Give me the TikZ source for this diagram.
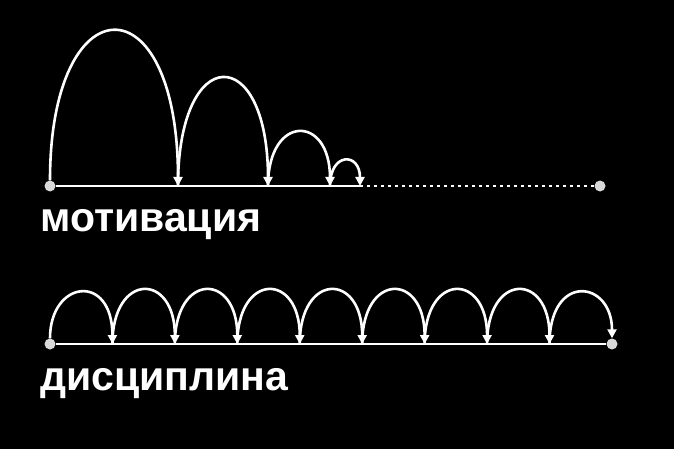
\documentclass[tikz,border=0pt]{standalone}
\usepackage{fontspec}
\setmainfont{Liberation Sans}
\usetikzlibrary{arrows.meta}
\begin{document}
\begin{tikzpicture}[x=1pt,y=-1pt,
  dotn/.style={circle,fill=white!85!black,inner sep=0pt,minimum size=11pt},
  arc/.style={white,line width=2.6pt,-{Triangle[length=9pt,width=9pt]}},
  base/.style={white,line width=2.6pt},
  lbl/.style={white,font=\bfseries\fontsize{41}{46}\selectfont,anchor=base west,inner sep=0pt}]
\fill[black] (0,0) rectangle (674,449);
\useasboundingbox (0,0) rectangle (674,449);
% top
\node[dotn] (t0) at (50,186) {};
\node[dotn] (tend) at (600,186) {};
\coordinate (t1) at (178,186);
\coordinate (t2) at (268,186);
\coordinate (t3) at (330,186);
\coordinate (t4) at (360,186);
\draw[base] (t0) -- (t4);
\draw[white,line width=2.6pt,dash pattern=on 3pt off 4pt] (t4) -- (tend);
\draw[arc] (t0.north) .. controls ([yshift=204pt]t0.center) and ([yshift=208pt]t1) .. (t1);
\draw[arc] (t1) .. controls ([yshift=144pt]t1) and ([yshift=144pt]t2) .. (t2);
\draw[arc] (t2) .. controls ([yshift=72pt]t2) and ([yshift=72pt]t3) .. (t3);
\draw[arc] (t3) .. controls ([yshift=34pt]t3) and ([yshift=34pt]t4) .. (t4);
\node[lbl] (m) at (40,231) {мотивация};
% bottom
\node[dotn] (b0) at (50,344) {};
\node[dotn] (b9) at (612,344) {};
\foreach \i in {1,...,8} \coordinate (b\i) at ({50+\i*62.44},344);
\draw[base] (b0) -- (b9);
\draw[arc] (b0.north) .. controls ([yshift=64pt]b0.center) and ([yshift=72pt]b1) .. (b1);
\foreach \i [evaluate=\i as \j using int(\i+1)] in {1,...,7}
  \draw[arc] (b\i) .. controls ([yshift=72pt]b\i) and ([yshift=72pt]b\j) .. (b\j);
\draw[arc] (b8) .. controls ([yshift=72pt]b8) and ([yshift=64pt]b9.center) .. (b9.north);
\node[lbl] (d) at (40,390) {дисциплина};
\end{tikzpicture}
\end{document}
